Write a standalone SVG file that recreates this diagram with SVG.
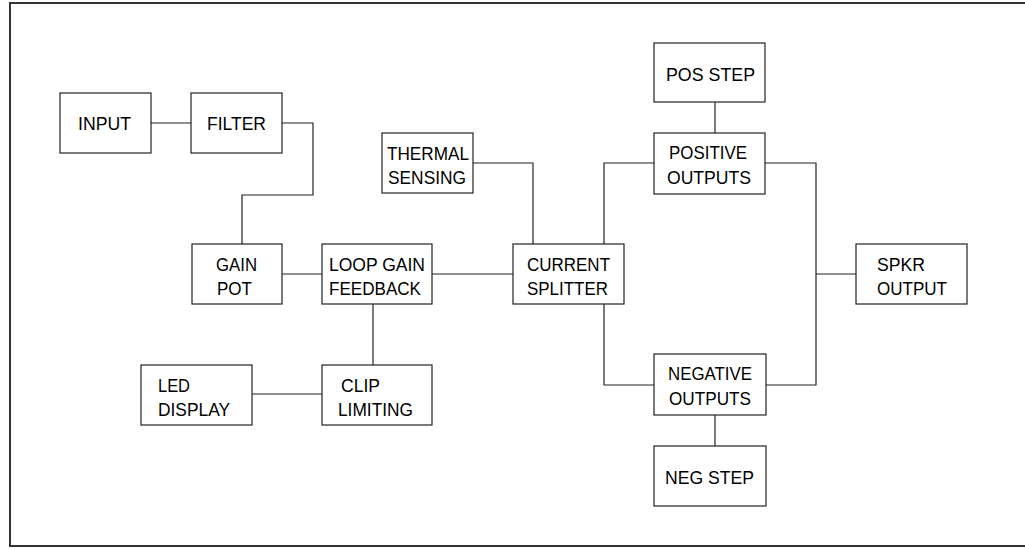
<svg xmlns="http://www.w3.org/2000/svg" width="1025" height="549" viewBox="0 0 1025 549">
<style>
.box{fill:#fff;stroke:#222;stroke-width:1.2}
.lbl{font-family:"Liberation Sans",Arial,sans-serif;font-size:18px;fill:#000}
.c{text-anchor:middle}
.wire{fill:none;stroke:#222;stroke-width:1.2}
.frame{fill:none;stroke:#333;stroke-width:2}
</style>
<rect x="0" y="0" width="1025" height="549" fill="#fff"/>
<path class="frame" d="M1030 3 H10 V546 H1030"/>
<g id="connectors">
<path class="wire" d="M151 123 H191"/>
<path class="wire" d="M282 123 H313 V195 H242 V244"/>
<path class="wire" d="M282 274 H322"/>
<path class="wire" d="M373 304 V365"/>
<path class="wire" d="M252 394 H322"/>
<path class="wire" d="M432 274 H513"/>
<path class="wire" d="M473 163 H533 V244"/>
<path class="wire" d="M604 244 V163 H654"/>
<path class="wire" d="M604 304 V385 H654"/>
<path class="wire" d="M715 102 V133"/>
<path class="wire" d="M715 415 V446"/>
<path class="wire" d="M765 163 H816 V385 H766"/>
<path class="wire" d="M816 274 H856"/>
</g>
<g id="input"><rect class="box" x="60" y="93" width="91" height="60"/><text class="lbl" x="78" y="130" textLength="53" lengthAdjust="spacingAndGlyphs">INPUT</text></g>
<g id="filter"><rect class="box" x="191" y="93" width="91" height="60"/><text class="lbl" x="207" y="130" textLength="59" lengthAdjust="spacingAndGlyphs">FILTER</text></g>
<g id="gain-pot"><rect class="box" x="192" y="244" width="90" height="60"/><text class="lbl" x="216" y="271" textLength="41" lengthAdjust="spacingAndGlyphs">GAIN</text><text class="lbl" x="217" y="295" textLength="35" lengthAdjust="spacingAndGlyphs">POT</text></g>
<g id="loop-gain"><rect class="box" x="322" y="244" width="110" height="60"/><text class="lbl" x="329" y="271" textLength="96" lengthAdjust="spacingAndGlyphs">LOOP GAIN</text><text class="lbl" x="329" y="295" textLength="92" lengthAdjust="spacingAndGlyphs">FEEDBACK</text></g>
<g id="clip"><rect class="box" x="322" y="365" width="110" height="60"/><text class="lbl" x="341" y="392" textLength="39" lengthAdjust="spacingAndGlyphs">CLIP</text><text class="lbl" x="338" y="416" textLength="75" lengthAdjust="spacingAndGlyphs">LIMITING</text></g>
<g id="led"><rect class="box" x="141" y="365" width="111" height="60"/><text class="lbl" x="158" y="392" textLength="32" lengthAdjust="spacingAndGlyphs">LED</text><text class="lbl" x="158" y="416" textLength="72" lengthAdjust="spacingAndGlyphs">DISPLAY</text></g>
<g id="thermal"><rect class="box" x="382" y="133" width="91" height="60"/><text class="lbl" x="387" y="160" textLength="82" lengthAdjust="spacingAndGlyphs">THERMAL</text><text class="lbl" x="388" y="184" textLength="78" lengthAdjust="spacingAndGlyphs">SENSING</text></g>
<g id="current"><rect class="box" x="513" y="244" width="111" height="60"/><text class="lbl" x="527" y="271" textLength="83" lengthAdjust="spacingAndGlyphs">CURRENT</text><text class="lbl" x="527" y="295" textLength="81" lengthAdjust="spacingAndGlyphs">SPLITTER</text></g>
<g id="pos-step"><rect class="box" x="654" y="43" width="111" height="59"/><text class="lbl" x="666" y="81" textLength="89" lengthAdjust="spacingAndGlyphs">POS STEP</text></g>
<g id="positive"><rect class="box" x="654" y="133" width="111" height="61"/><text class="lbl" x="669" y="159" textLength="78" lengthAdjust="spacingAndGlyphs">POSITIVE</text><text class="lbl" x="667" y="184" textLength="84" lengthAdjust="spacingAndGlyphs">OUTPUTS</text></g>
<g id="negative"><rect class="box" x="654" y="354" width="112" height="61"/><text class="lbl" x="668" y="380" textLength="84" lengthAdjust="spacingAndGlyphs">NEGATIVE</text><text class="lbl" x="669" y="405" textLength="82" lengthAdjust="spacingAndGlyphs">OUTPUTS</text></g>
<g id="neg-step"><rect class="box" x="654" y="446" width="112" height="60"/><text class="lbl" x="665" y="484" textLength="89" lengthAdjust="spacingAndGlyphs">NEG STEP</text></g>
<g id="spkr"><rect class="box" x="856" y="244" width="111" height="60"/><text class="lbl" x="877" y="271" textLength="48" lengthAdjust="spacingAndGlyphs">SPKR</text><text class="lbl" x="877" y="295" textLength="70" lengthAdjust="spacingAndGlyphs">OUTPUT</text></g>
</svg>
